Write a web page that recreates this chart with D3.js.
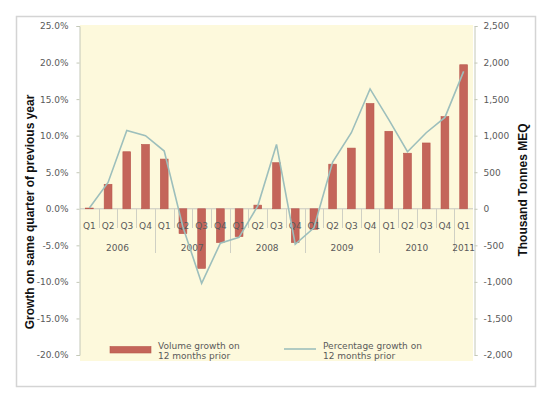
<!DOCTYPE html>
<html>
<head>
<meta charset="utf-8">
<script src="https://cdn.jsdelivr.net/npm/d3@7"></script>
<style>
  html, body { margin: 0; padding: 0; background: #fff; }
  svg { display: block; }
  text { font-family: "DejaVu Sans", Verdana, sans-serif; }
</style>
</head>
<body>
<script>
const years = ["2006", "2007", "2008", "2009", "2010", "2011"];
const quarters = ["Q1","Q2","Q3","Q4","Q1","Q2","Q3","Q4","Q1","Q2","Q3","Q4","Q1","Q2","Q3","Q4","Q1","Q2","Q3","Q4","Q1"];
const quarterYear = ["2006","2006","2006","2006","2007","2007","2007","2007","2008","2008","2008","2008","2009","2009","2009","2009","2010","2010","2010","2010","2011"];
const volumeGrowth = [10, 335, 780, 880, 680, -340, -815, -462, -380, 50, 630, -462, -280, 610, 830, 1440, 1060, 760, 900, 1260, 1970];
const percentGrowth = [0.1, 3.6, 10.7, 10.0, 7.9, -2.5, -10.2, -4.7, -3.9, 0.4, 8.8, -4.85, -2.6, 6.4, 10.4, 16.4, 12.2, 7.8, 10.4, 12.5, 18.8];
const leftTicks = [-20, -15, -10, -5, 0, 5, 10, 15, 20, 25];
const rightTicks = [-2000, -1500, -1000, -500, 0, 500, 1000, 1500, 2000, 2500];

const W = 550, H = 399;
const plot = { left: 80, right: 473, top: 26, bottom: 355 };
const svg = d3.select("body").append("svg").attr("width", W).attr("height", H);

// outer frame
svg.append("rect").attr("x", 16.5).attr("y", 16.5).attr("width", 519).attr("height", 370)
  .attr("fill", "#fff").attr("stroke", "#d4d4d4").attr("stroke-width", 1.5);

// plot background
svg.append("rect").attr("x", plot.left).attr("y", 25).attr("width", plot.right - plot.left).attr("height", 361 - 25)
  .attr("fill", "#fdf9dc");

const idx = d3.range(quarters.length);
const x = d3.scaleBand().domain(idx).range([plot.left, plot.right]).padding(0);
const yL = d3.scaleLinear().domain([-20, 25]).range([plot.bottom, plot.top]);
const yR = d3.scaleLinear().domain([-2000, 2500]).range([plot.bottom, plot.top]);

const labelColor = "#5a5a5a";
const axisColor = "#c4c8b8";

// left axis
const leftAxis = d3.axisLeft(yL).tickValues(leftTicks).tickSize(3).tickPadding(8)
  .tickFormat(d => d.toFixed(1) + "%");
const gL = svg.append("g").attr("transform", `translate(${plot.left - 0.5},0)`).call(leftAxis);
gL.select(".domain").attr("stroke", axisColor);
gL.selectAll(".tick line").attr("stroke", axisColor);
gL.selectAll(".tick text").attr("fill", labelColor).style("font-size", "9px").style("font-family", "DejaVu Sans");

// right axis
const fmtR = d3.format(",");
const rightAxis = d3.axisRight(yR).tickValues(rightTicks).tickSize(3).tickPadding(6)
  .tickFormat(d => fmtR(d).replace("\u2212", "-"));
const gR = svg.append("g").attr("transform", `translate(${plot.right + 1.5},0)`).call(rightAxis);
gR.select(".domain").attr("stroke", axisColor);
gR.selectAll(".tick line").attr("stroke", axisColor);
gR.selectAll(".tick text").attr("fill", labelColor).style("font-size", "9px").style("font-family", "DejaVu Sans");

// zero category axis line
const y0 = yL(0);
svg.append("line").attr("x1", plot.left).attr("x2", plot.right).attr("y1", y0).attr("y2", y0)
  .attr("stroke", "#c8c8c0").attr("stroke-width", 1);

// separators
idx.forEach(i => {
  if (i === 0) return;
  const xs = Math.round(x(i)) + 0.5;
  const isYear = quarterYear[i] !== quarterYear[i - 1];
  svg.append("line").attr("x1", xs).attr("x2", xs).attr("y1", y0).attr("y2", isYear ? 253 : 228)
    .attr("stroke", "#cfd0c4").attr("stroke-width", 1);
});

// bars
const barW = 7.8;
svg.append("g").selectAll("rect").data(volumeGrowth).join("rect")
  .attr("x", (d, i) => x(i) + x.bandwidth() / 2 - barW / 2)
  .attr("width", barW)
  .attr("y", d => Math.min(yR(d), yR(0)))
  .attr("height", d => Math.abs(yR(d) - yR(0)))
  .attr("fill", "#c4655a").attr("stroke", "#b8574c").attr("stroke-width", 0.6);

// quarter labels
svg.append("g").selectAll("text").data(quarters).join("text")
  .attr("x", (d, i) => x(i) + x.bandwidth() / 2).attr("y", 228.5)
  .attr("text-anchor", "middle").attr("fill", labelColor).style("font-size", "9px")
  .text(d => d);

// year labels
years.forEach(yr => {
  const members = idx.filter(i => quarterYear[i] === yr);
  const cx = (x(members[0]) + x(members[members.length - 1]) + x.bandwidth()) / 2;
  svg.append("text").attr("x", cx).attr("y", 250.5).attr("text-anchor", "middle")
    .attr("fill", labelColor).style("font-size", "9px").text(yr);
});

// line
const line = d3.line().x((d, i) => x(i) + x.bandwidth() / 2).y(d => yL(d));
svg.append("path").datum(percentGrowth).attr("d", line)
  .attr("fill", "none").attr("stroke", "#9dbfbc").attr("stroke-width", 1.6);

// axis titles
svg.append("text").attr("transform", `translate(34,212) rotate(-90)`).attr("text-anchor", "middle")
  .style("font-family", "Liberation Sans, Arial, sans-serif").style("font-weight", "bold").style("font-size", "12px")
  .attr("fill", "#111").text("Growth on same quarter of previous year");
svg.append("text").attr("transform", `translate(527,190) rotate(-90)`).attr("text-anchor", "middle")
  .style("font-family", "Liberation Sans, Arial, sans-serif").style("font-weight", "bold").style("font-size", "12px")
  .attr("fill", "#111").text("Thousand Tonnes MEQ");

// legend
svg.append("rect").attr("x", 110).attr("y", 346.5).attr("width", 41).attr("height", 6.5)
  .attr("fill", "#c4655a").attr("stroke", "#b8574c").attr("stroke-width", 0.6);
const lt1 = svg.append("text").attr("x", 158).attr("y", 348.5).attr("fill", labelColor).style("font-size", "9px");
lt1.append("tspan").attr("x", 158).attr("dy", 0).text("Volume growth on");
lt1.append("tspan").attr("x", 158).attr("dy", 10).text("12 months prior");
svg.append("line").attr("x1", 284).attr("x2", 316).attr("y1", 349).attr("y2", 349)
  .attr("stroke", "#9dbfbc").attr("stroke-width", 1.6);
const lt2 = svg.append("text").attr("x", 323).attr("y", 348.5).attr("fill", labelColor).style("font-size", "9px");
lt2.append("tspan").attr("x", 323).attr("dy", 0).text("Percentage growth on");
lt2.append("tspan").attr("x", 323).attr("dy", 10).text("12 months prior");
</script>
</body>
</html>
